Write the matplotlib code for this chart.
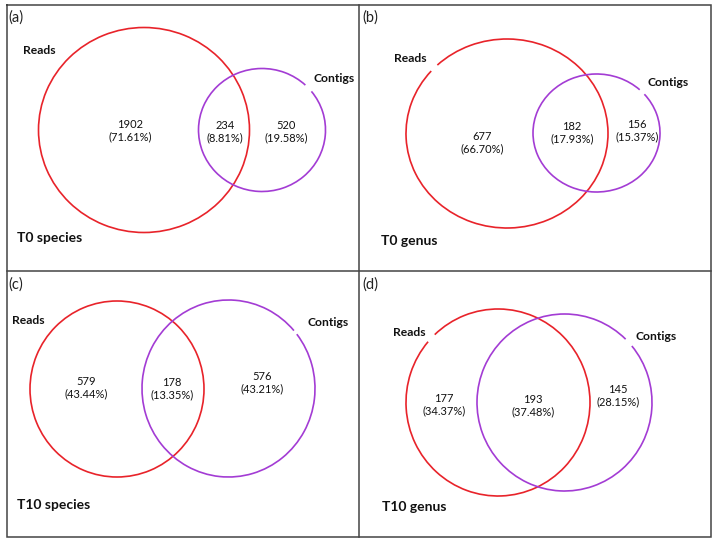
import matplotlib
matplotlib.use("Agg")
import matplotlib.pyplot as plt
from matplotlib.patches import Arc

# ---- data ----
panel_letters = ["(a)", "(b)", "(c)", "(d)"]
panel_titles = ["T0 species", "T0 genus", "T10 species", "T10 genus"]
set_names = ["Reads", "Contigs"]
reads_only = [1902, 677, 579, 177]
shared = [234, 182, 178, 193]
contigs_only = [520, 156, 576, 145]
reads_only_pct = ["71.61%", "66.70%", "43.44%", "34.37%"]
shared_pct = ["8.81%", "17.93%", "13.35%", "37.48%"]
contigs_only_pct = ["19.58%", "15.37%", "43.21%", "28.15%"]

# ---- layout (pixel coordinates) ----
W, H = 716, 545
RED = "#e8232a"
PURPLE = "#a33cd4"
FONT = "Lato"

# ellipse geometry per panel: (cx, cy, w, h, gap_angle, gap_size)
red_geo = [(144, 130, 211, 205, None, 0),
           (507, 133.5, 202, 189, -138, 5),
           (117, 389, 174, 176, None, 0),
           (498, 402.5, 184, 187, -136, 6)]
pur_geo = [(262, 130, 127, 123, -42, 8),
           (596.5, 133, 127, 118, -42, 6),
           (228.5, 388.5, 173, 177, -40, 3),
           (564.5, 402.5, 175, 177, -43, 6)]

letter_pos = [(8, 18), (362, 18), (8, 285), (362, 285)]
title_pos = [(17, 238), (381, 241), (17, 505), (382, 507)]
reads_lbl = [(23, 50), (394, 59), (12, 321), (393, 332)]
contig_lbl = [(313, 79), (648, 83), (307, 322), (635, 336)]
pos_r = [(130, 131), (482, 143), (86, 388), (444, 405)]
pos_s = [(225, 132), (572, 133), (172, 389), (533, 406)]
pos_c = [(286, 132), (637, 131), (262, 383), (618, 396)]

fig = plt.figure(figsize=(W / 100, H / 100), dpi=100)
ax = fig.add_axes([0, 0, 1, 1])
ax.set_xlim(0, W)
ax.set_ylim(H, 0)
ax.axis("off")

# frame and dividers
BC = "#444444"
ax.plot([7, 711, 711, 7, 7], [5, 5, 537, 537, 5], color=BC, lw=1.1, solid_joinstyle="miter")
ax.plot([359, 359], [5, 537], color=BC, lw=1.1)
ax.plot([7, 711], [271, 271], color=BC, lw=1.1)


def draw(geo, color):
    cx, cy, w, h, gap, gs = geo
    if gap is None:
        t1, t2 = 0, 360
    else:
        t1, t2 = gap + gs / 2, gap - gs / 2 + 360
    ax.add_patch(Arc((cx, cy), w, h, theta1=t1, theta2=t2, color=color, lw=1.2))


for i in range(4):
    draw(red_geo[i], RED)
    draw(pur_geo[i], PURPLE)
    ax.text(*letter_pos[i], panel_letters[i], fontsize=10.5, family=FONT,
            ha="left", va="center", color="#222222")
    ax.text(*title_pos[i], panel_titles[i], fontsize=10, family=FONT,
            fontweight="bold", ha="left", va="center", color="#111111")
    ax.text(*reads_lbl[i], set_names[0], fontsize=8.7, family=FONT,
            fontweight="bold", ha="left", va="center", color="#111111")
    ax.text(*contig_lbl[i], set_names[1], fontsize=8.7, family=FONT,
            fontweight="bold", ha="left", va="center", color="#111111")
    for p, n, pc in [(pos_r[i], reads_only[i], reads_only_pct[i]),
                     (pos_s[i], shared[i], shared_pct[i]),
                     (pos_c[i], contigs_only[i], contigs_only_pct[i])]:
        ax.text(p[0], p[1], f"{n}\n({pc})", fontsize=8, family=FONT,
                ha="center", va="center", color="#111111", linespacing=1.15)

fig.savefig("out.png", dpi=100)
